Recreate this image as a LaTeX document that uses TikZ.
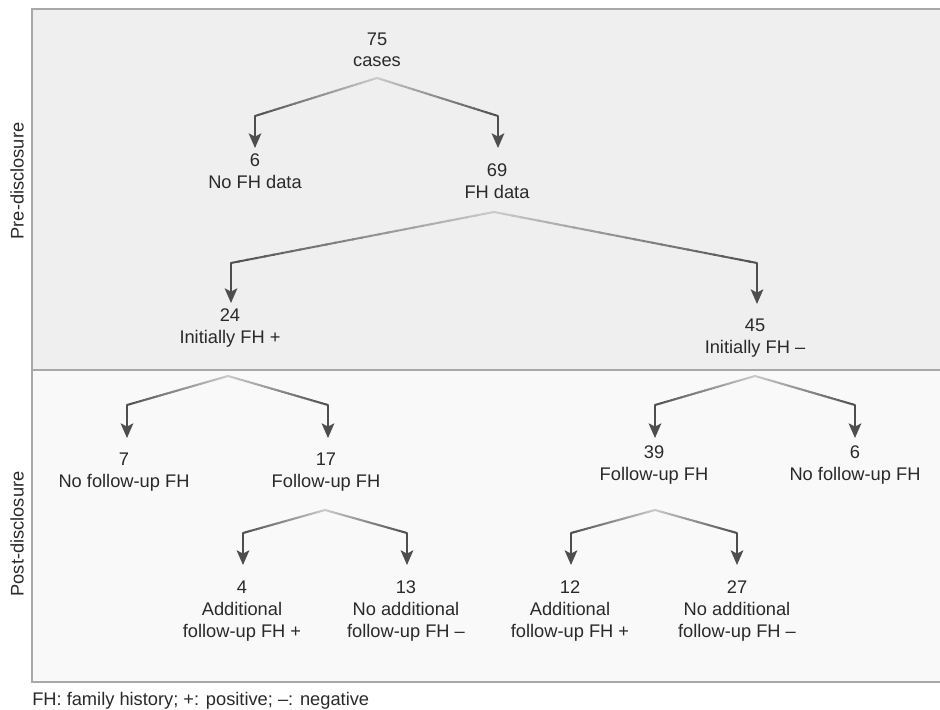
\documentclass[tikz,border=0pt]{standalone}
\usepackage{fontspec}
\setmainfont{Liberation Sans}
\usetikzlibrary{arrows.meta,calc}
\definecolor{prefill}{HTML}{EFEFEF}
\definecolor{postfill}{HTML}{F9F9F9}
\definecolor{framecol}{HTML}{A8A8A8}
\definecolor{txtcol}{HTML}{2A2A2A}
\definecolor{lndark}{HTML}{4E4E4E}
\definecolor{lnlight}{HTML}{CBCBCB}
\tikzset{
  lbl/.style={align=center, inner sep=0pt, anchor=base, text=txtcol,
    font=\fontsize{13.7pt}{16.3pt}\selectfont},
  sidelbl/.style={inner sep=0pt, anchor=center, rotate=90, text=txtcol,
    font=\fontsize{13.7pt}{16.3pt}\selectfont},
  framepath/.style={draw=framecol, line width=1.5pt},
  arr/.style={draw=lndark, line width=1.5pt, line cap=round,
    -{Stealth[length=11pt,width=9.5pt,inset=2.5pt]}},
}
\newcommand\gradline[2]{%
  \foreach \i in {0,...,29}{%
    \pgfmathsetmacro\ta{\i/30}%
    \pgfmathsetmacro\tb{min(1,(\i+1.2)/30)}%
    \pgfmathsetmacro\pc{100*(\i+0.5)/30}%
    \draw[line width=1.5pt, color=lndark!\pc!lnlight] ($(#1)!\ta!(#2)$) -- ($(#1)!\tb!(#2)$);
  }}
\begin{document}
\begin{tikzpicture}[x=0.75pt,y=-0.75pt]
\fill[white] (0,0) rectangle (940,710);
\useasboundingbox (0,0) rectangle (940,710);
% panels
\fill[prefill] (32,9) rectangle (942,370);
\fill[postfill] (32,370) rectangle (942,682);
\draw[framepath] (942,9) -- (32,9) -- (32,682) -- (942,682);
\draw[framepath] (32,370) -- (942,370);
% side labels
\node[sidelbl] (pre) at (17,181) {Pre-disclosure};
\node[sidelbl] (post) at (17,534) {Post-disclosure};
% labels (anchor = baseline of last line)
\node[lbl] (n75) at (377,67) {75\\cases};
\node[lbl] (n6a) at (255,188.5) {6\\No FH data};
\node[lbl] (n69) at (497,198.5) {69\\FH data};
\node[lbl] (n24) at (230,343.5) {24\\Initially FH +};
\node[lbl] (n45) at (755,353) {45\\Initially FH –};
\node[lbl] (n7) at (124,487) {7\\No follow-up FH};
\node[lbl] (n17) at (326,487) {17\\Follow-up FH};
\node[lbl] (n39) at (654,480.5) {39\\Follow-up FH};
\node[lbl] (n6b) at (855,480.5) {6\\No follow-up FH};
\node[lbl] (n4) at (242,637) {4\\Additional\\follow-up FH +};
\node[lbl] (n13) at (406,637) {13\\No additional\\follow-up FH –};
\node[lbl] (n12) at (570,637) {12\\Additional\\follow-up FH +};
\node[lbl] (n27) at (737,637) {27\\No additional\\follow-up FH –};
\node[lbl, anchor=base west] (foot) at (32,705) {FH: family history; +: positive; –: negative};
% coordinates: apexes, corners, tips
\coordinate (a75) at (377,78);
\coordinate (c6a) at (255,116);  \coordinate (t6a) at (255,148);
\coordinate (c69) at (498,116);  \coordinate (t69) at (498,148);
\coordinate (a69) at (494,212);
\coordinate (c24) at (231,263);  \coordinate (t24) at (231,303);
\coordinate (c45) at (757,263);  \coordinate (t45) at (757,304);
\coordinate (a24) at (228,376);
\coordinate (c7) at (127,405);   \coordinate (t7) at (127,438);
\coordinate (c17) at (328,405);  \coordinate (t17) at (328,438);
\coordinate (a45) at (755,376);
\coordinate (c39) at (655,405);  \coordinate (t39) at (655,438);
\coordinate (c6b) at (855,405);  \coordinate (t6b) at (855,438);
\coordinate (a17) at (325,510);
\coordinate (c4) at (243,533);   \coordinate (t4) at (243,565);
\coordinate (c13) at (407,533);  \coordinate (t13) at (407,565);
\coordinate (a39) at (655,510);
\coordinate (c12) at (571,533);  \coordinate (t12) at (571,565);
\coordinate (c27) at (737,533);  \coordinate (t27) at (737,565);
% connectors
\gradline{a75}{c6a} \draw[arr] (c6a) -- (t6a);
\gradline{a75}{c69} \draw[arr] (c69) -- (t69);
\gradline{a69}{c24} \draw[arr] (c24) -- (t24);
\gradline{a69}{c45} \draw[arr] (c45) -- (t45);
\gradline{a24}{c7}  \draw[arr] (c7) -- (t7);
\gradline{a24}{c17} \draw[arr] (c17) -- (t17);
\gradline{a45}{c39} \draw[arr] (c39) -- (t39);
\gradline{a45}{c6b} \draw[arr] (c6b) -- (t6b);
\gradline{a17}{c4}  \draw[arr] (c4) -- (t4);
\gradline{a17}{c13} \draw[arr] (c13) -- (t13);
\gradline{a39}{c12} \draw[arr] (c12) -- (t12);
\gradline{a39}{c27} \draw[arr] (c27) -- (t27);
\end{tikzpicture}
\end{document}
